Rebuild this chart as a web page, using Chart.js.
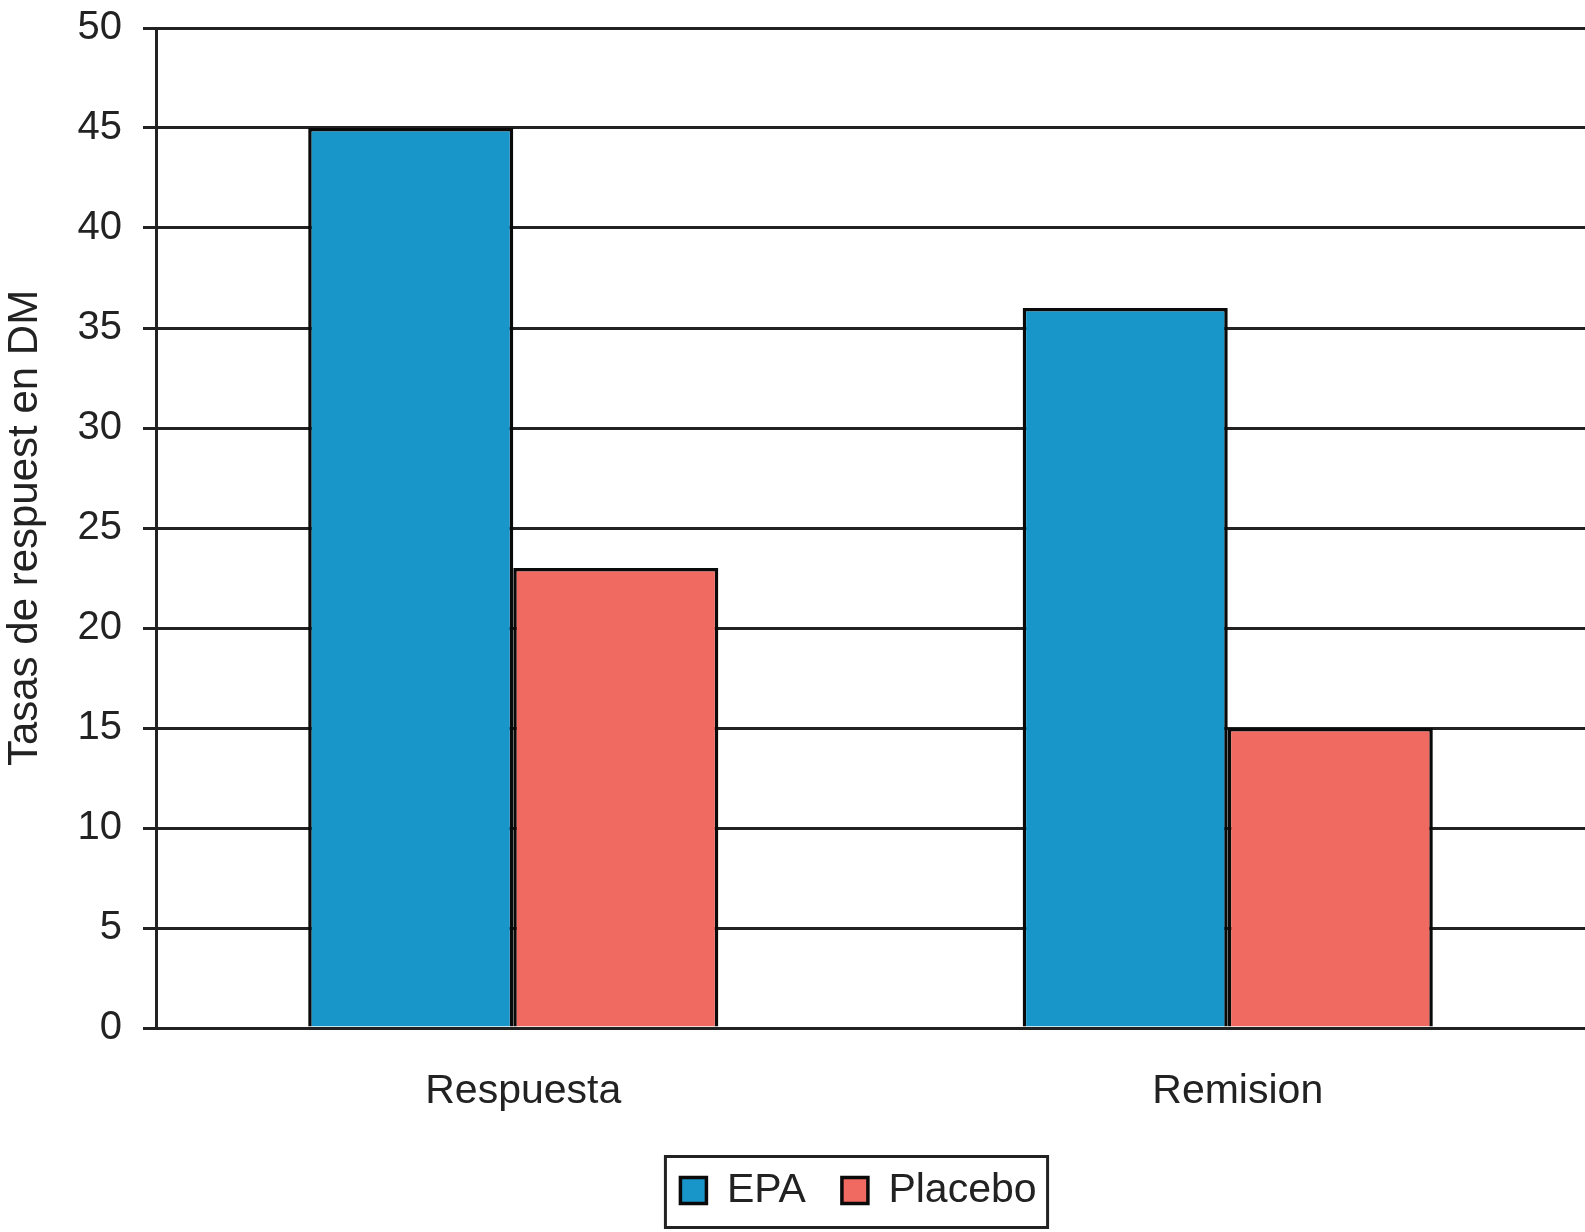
<!DOCTYPE html>
<html><head><meta charset="utf-8">
<script src="https://cdn.jsdelivr.net/npm/chart.js@4/dist/chart.umd.min.js"></script>
<style>html,body{margin:0;padding:0;background:#fff}#wrap{width:1585px;height:1232px;position:relative}</style>
</head><body><div id="wrap"><canvas id="c"></canvas></div>
<script>
const categories = ['Respuesta', 'Remision'];
const seriesNames = ['EPA', 'Placebo'];
const epaValues = [45, 36];
const placeboValues = [23, 15];
const yTitle = 'Tasas de respuest en DM';
const yMin = 0, yMax = 50, yStep = 5;

const FONT = '"Liberation Sans", Arial, Helvetica, sans-serif';
const INK = '#222222';
const LEGEND_SHIFT = 66;

const legendShift = {
  id: 'legendShift',
  afterLayout(chart) {
    const lg = chart.legend;
    if (lg) { lg.left += LEGEND_SHIFT; lg.right += LEGEND_SHIFT; }
  }
};
const legendBorder = {
  id: 'legendBorder',
  afterDraw(chart) {
    const lg = chart.legend;
    if (!lg || !lg.legendHitBoxes || !lg.legendHitBoxes.length) return;
    const hb = lg.legendHitBoxes;
    const first = hb[0], last = hb[hb.length - 1];
    const cy = first.top + first.height / 2;
    const x0 = first.left - 15, x1 = last.left + last.width + 11;
    const ctx = chart.ctx;
    ctx.save();
    ctx.strokeStyle = INK;
    ctx.lineWidth = 3;
    ctx.strokeRect(x0, cy - 34, x1 - x0, 71);
    ctx.restore();
  }
};

new Chart(document.getElementById('c'), {
  type: 'bar',
  data: {
    labels: categories,
    datasets: [
      { label: seriesNames[0], data: epaValues, backgroundColor: '#1896C9', borderColor: '#0a0a0a', borderWidth: 3.5 },
      { label: seriesNames[1], data: placeboValues, backgroundColor: '#F06A61', borderColor: '#0a0a0a', borderWidth: 3.5 }
    ]
  },
  options: {
    responsive: true,
    maintainAspectRatio: false,
    devicePixelRatio: 1,
    animation: false,
    layout: { padding: { top: 28, right: 0, bottom: 11, left: 0 } },
    datasets: { bar: { categoryPercentage: 0.574, barPercentage: 1.0 } },
    scales: {
      x: {
        offset: true,
        grid: { display: false, drawTicks: false },
        border: { display: false },
        ticks: { color: INK, font: { family: FONT, size: 41 }, padding: 39, labelOffset: 10 },
        afterFit(s) { s.height = 106; s.paddingLeft = 0; s.paddingRight = 0; }
      },
      y: {
        min: yMin, max: yMax,
        ticks: { stepSize: yStep, color: INK, font: { family: FONT, size: 40 }, padding: 21 },
        grid: { color: INK, lineWidth: 3, tickLength: 13, drawTicks: true },
        border: { color: INK, width: 3 },
        title: { display: true, text: yTitle, color: INK, font: { family: FONT, size: 42 }, padding: 0 },
        afterFit(s) { s.width = 156; s.paddingTop = 0; s.paddingBottom = 0; }
      }
    },
    plugins: {
      legend: {
        position: 'bottom',
        labels: { color: INK, font: { family: FONT, size: 41 }, boxWidth: 26, boxHeight: 26, padding: 36 }
      },
      tooltip: { enabled: false }
    }
  },
  plugins: [legendShift, legendBorder]
});
</script></body></html>
